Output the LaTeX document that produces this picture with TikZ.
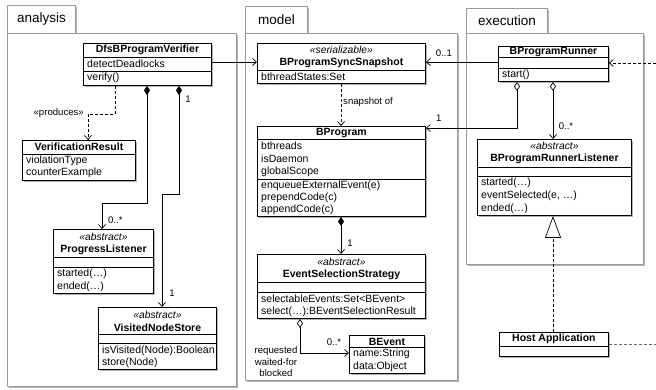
\documentclass[tikz,border=0pt]{standalone}
\usepackage{fontspec}
\setmainfont{Liberation Sans}
\usetikzlibrary{arrows.meta,shadows}
\tikzset{
  shad/.style={drop shadow={shadow xshift=1.5pt,shadow yshift=-1.5pt,opacity=0.3,fill=black}},
  pkgframe/.style={draw=black!40,line width=0.8pt,fill=white,anchor=north west,inner sep=0,shad},
  pkglbl/.style={font=\fontsize{13.5}{16}\selectfont,inner sep=0},
  cls/.style={draw=black,line width=0.9pt,fill=white,anchor=north west,inner sep=0,shad},
  sepline/.style={draw=black,line width=0.6pt},
  ctitle/.style={font=\fontsize{10.5}{12}\selectfont\bfseries,inner sep=0},
  stereo/.style={font=\fontsize{10.3}{12}\selectfont\itshape,inner sep=0},
  attr/.style={font=\fontsize{10.5}{12}\selectfont,anchor=west,inner sep=0},
  lbl/.style={font=\fontsize{9.6}{11.5}\selectfont,inner sep=0},
  tip/.style={-{Straight Barb[length=4pt,width=7pt]}},
  assoc/.style={draw,line width=0.7pt,tip},
  dep/.style={assoc,dash pattern=on 3pt off 2pt},
  comp/.style={draw,line width=0.7pt,{Diamond[length=9pt,width=6pt]}-{Straight Barb[length=4pt,width=7pt]}},
  aggr/.style={draw,line width=0.7pt,{Diamond[open,length=9pt,width=6pt,fill=white]}-{Straight Barb[length=4pt,width=7pt]}},
  real/.style={draw,line width=0.7pt,dash pattern=on 3pt off 2pt,-{Triangle[open,length=22pt,width=16pt,fill=white]}},
}
\newcommand\csep[2]{\draw[sepline] ([yshift=-#2pt]#1.north west) -- ([yshift=-#2pt]#1.north east);}
\begin{document}
\begin{tikzpicture}[x=1pt,y=-1pt]
\useasboundingbox[fill=white] (0,0) rectangle (656,390);
% ---------- packages
\node[pkgframe,minimum width=68pt,minimum height=28pt] (antab) at (7,5) {};
\node[pkgframe,minimum width=229pt,minimum height=353pt] (anbody) at (7,33) {};
\node[pkglbl] (anlbl) at ([yshift=0pt]antab.center) {analysis};
\node[pkgframe,minimum width=62pt,minimum height=27pt] (motab) at (245,6) {};
\node[pkgframe,minimum width=212pt,minimum height=347pt] (mobody) at (245,33) {};
\node[pkglbl] (molbl) at (motab.center) {model};
\node[pkgframe,minimum width=81pt,minimum height=25pt] (extab) at (466,8) {};
\node[pkgframe,minimum width=177pt,minimum height=231pt] (exbody) at (466,33) {};
\node[pkglbl] (exlbl) at (extab.center) {execution};
% ---------- analysis classes
\node[cls,minimum width=128pt,minimum height=42pt] (dfs) at (83,43) {};
\node[ctitle] (dfst) at ([yshift=-7pt]dfs.north) {DfsBProgramVerifier};
\csep{dfs}{14}\csep{dfs}{28}
\node[attr] (dfsa) at ([xshift=4pt,yshift=-21pt]dfs.north west) {detectDeadlocks};
\node[attr] (dfso) at ([xshift=4pt,yshift=-35pt]dfs.north west) {verify()};

\node[cls,minimum width=113pt,minimum height=40pt] (vr) at (22,140) {};
\node[ctitle] (vrt) at ([yshift=-7pt]vr.north) {VerificationResult};
\csep{vr}{14}
\node[attr] (vra) at ([xshift=4pt,yshift=-20.5pt]vr.north west) {violationType};
\node[attr] (vrb) at ([xshift=4pt,yshift=-33pt]vr.north west) {counterExample};

\node[cls,minimum width=100pt,minimum height=64pt] (pl) at (53,229) {};
\node[stereo] (pls) at ([yshift=-8pt]pl.north) {«abstract»};
\node[ctitle] (plt) at ([yshift=-21pt]pl.north) {ProgressListener};
\csep{pl}{28}\csep{pl}{38}
\node[attr] (plo1) at ([xshift=4pt,yshift=-45pt]pl.north west) {started(…)};
\node[attr] (plo2) at ([xshift=4pt,yshift=-58pt]pl.north west) {ended(…)};

\node[cls,minimum width=118pt,minimum height=62pt] (vns) at (98,307) {};
\node[stereo] (vnss) at ([yshift=-7.5pt]vns.north) {«abstract»};
\node[ctitle] (vnst) at ([yshift=-20.5pt]vns.north) {VisitedNodeStore};
\csep{vns}{27}\csep{vns}{36}
\node[attr] (vnso1) at ([xshift=4pt,yshift=-43.5pt]vns.north west) {isVisited(Node):Boolean};
\node[attr] (vnso2) at ([xshift=4pt,yshift=-56pt]vns.north west) {store(Node)};
% ---------- model classes
\node[cls,minimum width=168pt,minimum height=40pt] (snap) at (257,43) {};
\node[stereo] (snaps) at ([yshift=-7pt]snap.north) {«serializable»};
\node[ctitle] (snapt) at ([yshift=-20pt]snap.north) {BProgramSyncSnapshot};
\csep{snap}{27}
\node[attr] (snapa) at ([xshift=4pt,yshift=-33.5pt]snap.north west) {bthreadStates:Set};

\node[cls,minimum width=168pt,minimum height=90pt] (bp) at (257,126) {};
\node[ctitle] (bpt) at ([yshift=-7pt]bp.north) {BProgram};
\csep{bp}{13}\csep{bp}{53}
\node[attr] (bpa1) at ([xshift=4pt,yshift=-20pt]bp.north west) {bthreads};
\node[attr] (bpa2) at ([xshift=4pt,yshift=-33pt]bp.north west) {isDaemon};
\node[attr] (bpa3) at ([xshift=4pt,yshift=-46pt]bp.north west) {globalScope};
\node[attr] (bpo1) at ([xshift=4pt,yshift=-59.5pt]bp.north west) {enqueueExternalEvent(e)};
\node[attr] (bpo2) at ([xshift=4pt,yshift=-72pt]bp.north west) {prependCode(c)};
\node[attr] (bpo3) at ([xshift=4pt,yshift=-84pt]bp.north west) {appendCode(c)};

\node[cls,minimum width=168pt,minimum height=64pt] (ess) at (257,254) {};
\node[stereo] (esss) at ([yshift=-7.5pt]ess.north) {«abstract»};
\node[ctitle] (esst) at ([yshift=-21pt]ess.north) {EventSelectionStrategy};
\csep{ess}{28}\csep{ess}{38}
\node[attr] (esso1) at ([xshift=4pt,yshift=-45pt]ess.north west) {selectableEvents:Set<BEvent>};
\node[attr] (esso2) at ([xshift=4pt,yshift=-57.5pt]ess.north west) {select(…):BEventSelectionResult};

\node[cls,minimum width=75pt,minimum height=38pt] (bev) at (349,335) {};
\node[ctitle] (bevt) at ([yshift=-6.5pt]bev.north) {BEvent};
\csep{bev}{12.5}
\node[attr] (beva1) at ([xshift=4pt,yshift=-19pt]bev.north west) {name:String};
\node[attr] (beva2) at ([xshift=4pt,yshift=-32pt]bev.north west) {data:Object};
% ---------- execution classes
\node[cls,minimum width=110pt,minimum height=35pt] (runner) at (498,46) {};
\node[ctitle] (runnert) at ([yshift=-6pt]runner.north) {BProgramRunner};
\csep{runner}{11.5}\csep{runner}{22}
\node[attr] (runnero) at ([xshift=4pt,yshift=-28.5pt]runner.north west) {start()};

\node[cls,minimum width=154pt,minimum height=76pt] (rl) at (477,139) {};
\node[stereo] (rls) at ([yshift=-7pt]rl.north) {«abstract»};
\node[ctitle] (rlt) at ([yshift=-20pt]rl.north) {BProgramRunnerListener};
\csep{rl}{28}\csep{rl}{37}
\node[attr] (rlo1) at ([xshift=4pt,yshift=-44pt]rl.north west) {started(…)};
\node[attr] (rlo2) at ([xshift=4pt,yshift=-57pt]rl.north west) {eventSelected(e, …)};
\node[attr] (rlo3) at ([xshift=4pt,yshift=-70pt]rl.north west) {ended(…)};

\node[cls,minimum width=109pt,minimum height=24pt] (host) at (499,332) {};
\node[ctitle] (hostt) at ([yshift=-7pt]host.north) {Host Application};
\csep{host}{14}
% ---------- connectors
\draw[assoc] ([yshift=-19pt]dfs.north east) -- ([yshift=-19pt]snap.north west);
\draw[dep] ([xshift=32pt]dfs.south west) -- ++(0,28) -| ([xshift=66pt]vr.north west);
\node[lbl,anchor=east] (prod) at ([xshift=62pt,yshift=27pt]vr.north west) {«produces»};
\draw[comp] ([xshift=64pt]dfs.south west) -- ++(0,117) -| ([xshift=49pt]pl.north west);
\node[lbl,anchor=west] (plm) at ([xshift=55pt,yshift=9pt]pl.north west) {0..*};
\draw[comp] ([xshift=96pt]dfs.south west) -- ++(0,108) -| ([xshift=64pt]vns.north west);
\node[lbl] (vnsm1) at ([xshift=105pt,yshift=-13pt]dfs.south west) {1};
\node[lbl] (vnsm2) at ([xshift=74pt,yshift=14pt]vns.north west) {1};

\draw[dep] ([xshift=84pt]snap.south west) -- ([xshift=84pt]bp.north west);
\node[lbl,anchor=west] (snapof) at ([xshift=86pt,yshift=-18pt]snap.south west) {snapshot of};
\draw[comp] ([xshift=84pt]bp.south west) -- ([xshift=84pt]ess.north west);
\node[lbl] (essm) at ([xshift=93pt,yshift=11pt]ess.north west) {1};
\draw[aggr] ([xshift=43pt]ess.south west) |- ([yshift=-18pt]bev.north west);
\node[lbl] (bevm) at ([xshift=-15pt,yshift=-7pt]bev.north west) {0..*};
\node[lbl,align=center] (rwb) at ([xshift=19pt,yshift=-43pt]ess.south west) {requested\\waited-for\\blocked};

\draw[assoc] ([yshift=-16pt]runner.north west) -- ([yshift=-19pt]snap.north east);
\node[lbl] (snapm) at ([xshift=18pt,yshift=-10pt]snap.north east) {0..1};
\draw[aggr] ([xshift=19pt]runner.south west) |- ([yshift=-2pt]bp.north east);
\node[lbl] (bpm) at ([xshift=13pt,yshift=8pt]bp.north east) {1};
\draw[aggr] ([xshift=55pt]runner.south west) -- ([xshift=76pt]rl.north west);
\node[lbl] (rlm) at ([xshift=89pt,yshift=13pt]rl.north west) {0..*};
\draw[real] ([xshift=54pt]host.north west) -- ([xshift=76pt]rl.south west);
\coordinate (rin) at (656,63);
\draw[dep] (rin) -- ([yshift=-17pt]runner.north east);
\coordinate (hout) at (656,344);
\draw[line width=0.7pt,dash pattern=on 3pt off 2pt,draw=black!60] ([yshift=-12pt]host.north east) -- (hout);
\end{tikzpicture}
\end{document}
